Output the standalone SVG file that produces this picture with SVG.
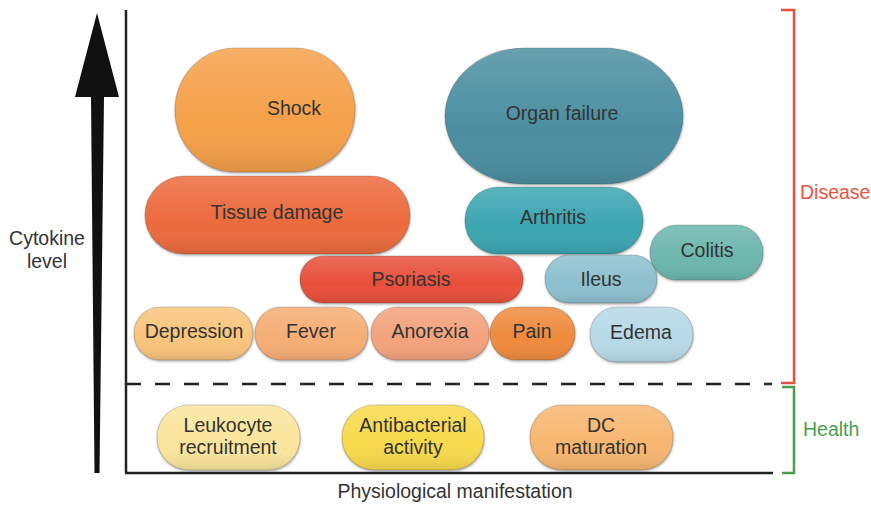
<svg xmlns="http://www.w3.org/2000/svg" width="871" height="506" viewBox="0 0 871 506">
<defs>
<linearGradient id="shade" x1="0" y1="0" x2="0" y2="1">
<stop offset="0" stop-color="#fff" stop-opacity="0.16"/>
<stop offset="0.6" stop-color="#fff" stop-opacity="0"/>
<stop offset="1" stop-color="#000" stop-opacity="0.1"/>
</linearGradient>
<filter id="sh" x="-10%" y="-10%" width="120%" height="130%">
<feDropShadow dx="0.5" dy="1.5" stdDeviation="1.2" flood-color="#000" flood-opacity="0.3"/>
</filter>
</defs>
<style>
text{font-family:"Liberation Sans",Arial,sans-serif;font-size:19.5px;fill:#333;text-anchor:middle}
.pill{stroke:#000;stroke-opacity:0.18;stroke-width:1.2;filter:url(#sh)}
.ov{fill:url(#shade);stroke:none}
.ax{stroke:#222;stroke-width:2.5;fill:none}
</style>
<rect width="871" height="506" fill="#fff"/>
<g id="axes">
<path d="M97 13 L119 97 L104 97 L99.5 473 L94.5 473 L91 97 L75 97 Z" fill="#111"/>
<line class="ax" x1="126" y1="10" x2="126" y2="473"/>
<line class="ax" x1="125" y1="473" x2="773" y2="473"/>
<line x1="126" y1="384" x2="772" y2="384" stroke="#222" stroke-width="2.5" stroke-dasharray="15 14"/>
<path d="M781 10 H794 V383 H781" fill="none" stroke="#e8503a" stroke-width="2.5"/>
<path d="M782 387 H794 V473 H782" fill="none" stroke="#4a9e4a" stroke-width="2.5"/>
<text x="47" y="245">Cytokine</text>
<text x="47" y="268">level</text>
<text x="455" y="498">Physiological manifestation</text>
<text x="800" y="199" style="text-anchor:start;fill:#e8553a">Disease</text>
<text x="803" y="436" style="text-anchor:start;fill:#4a9e4a">Health</text>
</g>
<g id="connectors"></g>
<g id="shock"><rect class="pill" x="175" y="48" width="180" height="124" rx="60" ry="62" fill="#f5a04a"/><rect class="ov" x="175" y="48" width="180" height="124" rx="60" ry="62"/><text x="294" y="115">Shock</text></g>
<g id="organ-failure"><rect class="pill" x="445" y="48" width="238" height="136" rx="80" ry="68" fill="#4b8fa1"/><rect class="ov" x="445" y="48" width="238" height="136" rx="80" ry="68"/><text x="562" y="120">Organ failure</text></g>
<g id="tissue-damage"><rect class="pill" x="145" y="176" width="265" height="78" rx="39" fill="#ec6a3c"/><rect class="ov" x="145" y="176" width="265" height="78" rx="39"/><text x="277" y="219">Tissue damage</text></g>
<g id="arthritis"><rect class="pill" x="465" y="187" width="178" height="67" rx="33" fill="#3aa5b1"/><rect class="ov" x="465" y="187" width="178" height="67" rx="33"/><text x="553" y="224">Arthritis</text></g>
<g id="colitis"><rect class="pill" x="650" y="225" width="113" height="55" rx="27" fill="#6cb6ae"/><rect class="ov" x="650" y="225" width="113" height="55" rx="27"/><text x="707" y="257">Colitis</text></g>
<g id="ileus"><rect class="pill" x="545" y="255" width="112" height="48" rx="24" fill="#8dc0cf"/><rect class="ov" x="545" y="255" width="112" height="48" rx="24"/><text x="601" y="286">Ileus</text></g>
<g id="psoriasis"><rect class="pill" x="300" y="256" width="223" height="47" rx="23" fill="#e8503a"/><rect class="ov" x="300" y="256" width="223" height="47" rx="23"/><text x="411" y="286">Psoriasis</text></g>
<g id="depression"><rect class="pill" x="134" y="307" width="119" height="53" rx="26" fill="#f9c47c"/><rect class="ov" x="134" y="307" width="119" height="53" rx="26"/><text x="194" y="338">Depression</text></g>
<g id="fever"><rect class="pill" x="255" y="307" width="113" height="53" rx="26" fill="#f6ad74"/><rect class="ov" x="255" y="307" width="113" height="53" rx="26"/><text x="311" y="338">Fever</text></g>
<g id="anorexia"><rect class="pill" x="371" y="307" width="118" height="53" rx="26" fill="#f3a27c"/><rect class="ov" x="371" y="307" width="118" height="53" rx="26"/><text x="430" y="338">Anorexia</text></g>
<g id="pain"><rect class="pill" x="490" y="307" width="85" height="53" rx="26" fill="#ef8a3c"/><rect class="ov" x="490" y="307" width="85" height="53" rx="26"/><text x="532" y="338">Pain</text></g>
<g id="edema"><rect class="pill" x="590" y="307" width="103" height="55" rx="27" fill="#b6d9e7"/><rect class="ov" x="590" y="307" width="103" height="55" rx="27"/><text x="641" y="339">Edema</text></g>
<g id="leukocyte"><rect class="pill" x="157" y="405" width="143" height="65" rx="32" fill="#fbe59c"/><rect class="ov" x="157" y="405" width="143" height="65" rx="32"/><text x="228" y="432">Leukocyte</text><text x="228" y="454">recruitment</text></g>
<g id="antibacterial"><rect class="pill" x="342" y="405" width="142" height="65" rx="32" fill="#f8d94b"/><rect class="ov" x="342" y="405" width="142" height="65" rx="32"/><text x="413" y="432">Antibacterial</text><text x="413" y="454">activity</text></g>
<g id="dc-maturation"><rect class="pill" x="530" y="405" width="143" height="65" rx="32" fill="#f7b66f"/><rect class="ov" x="530" y="405" width="143" height="65" rx="32"/><text x="601" y="432">DC</text><text x="601" y="454">maturation</text></g>
</svg>
